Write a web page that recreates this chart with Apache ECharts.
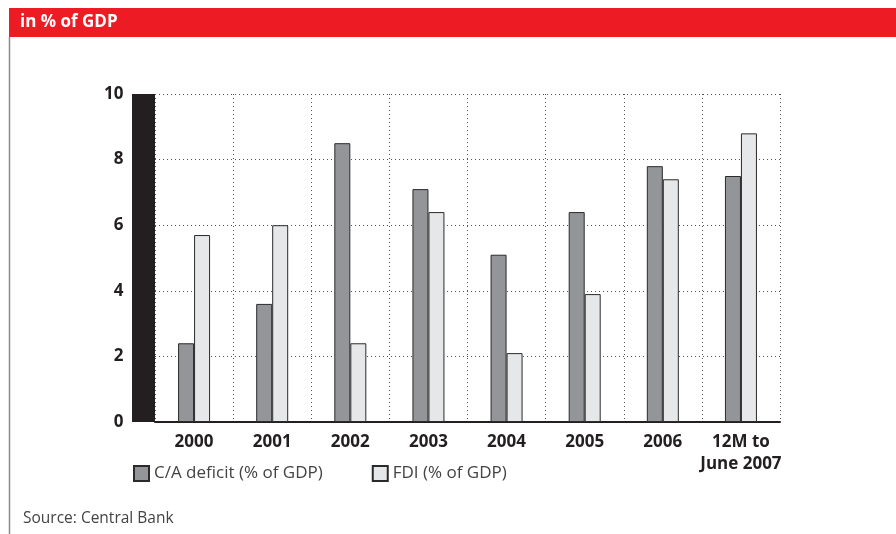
<!DOCTYPE html>
<html>
<head>
<meta charset="utf-8">
<script src="https://cdn.jsdelivr.net/npm/echarts@6/dist/echarts.min.js"></script>
<style>
html,body{margin:0;padding:0;background:#fff;}
#chart{width:896px;height:534px;}
</style>
</head>
<body>
<div id="chart"></div>
<script>
var categories = ['2000', '2001', '2002', '2003', '2004', '2005', '2006', '12M to\nJune 2007'];
var caDeficit = [2.4, 3.6, 8.5, 7.1, 5.1, 6.4, 7.8, 7.5];
var fdi = [5.7, 6.0, 2.4, 6.4, 2.1, 3.9, 7.4, 8.8];
var yTicks = [0, 2, 4, 6, 8, 10];

var FONT = '"Open Sans", "Noto Sans", sans-serif';
var chart = echarts.init(document.getElementById('chart'));
chart.setOption({
  animation: false,
  backgroundColor: '#fff',
  textStyle: { fontFamily: FONT },
  graphic: [
    { type: 'rect', shape: { x: 9, y: 8, width: 887, height: 29 }, style: { fill: '#ed1c24' } },
    { type: 'text', x: 20, y: 22, style: { text: 'in % of GDP', fill: '#fff', font: 'bold 17px ' + FONT, verticalAlign: 'middle' } },
    { type: 'line', shape: { x1: 9.5, y1: 37, x2: 9.5, y2: 534 }, style: { stroke: '#8a8a8a', lineWidth: 1.5 } },
    { type: 'text', left: 23, top: 511, style: { text: 'Source: Central Bank', fill: '#444', font: '15.5px ' + FONT } }
  ],
  grid: { left: 155, right: 116, top: 94, bottom: 112, containLabel: false },
  legend: {
    left: 128, top: 460, itemWidth: 15, itemHeight: 15, itemGap: 49,
    icon: 'rect',
    textStyle: { fontSize: 17, color: '#444', fontFamily: FONT },
    data: ['C/A deficit (% of GDP)', 'FDI (% of GDP)']
  },
  xAxis: {
    type: 'category',
    data: categories,
    boundaryGap: true,
    axisLine: { show: true, lineStyle: { color: '#231f20', width: 2 } },
    axisTick: { show: false },
    axisLabel: { fontWeight: 'bold', fontSize: 17, color: '#231f20', margin: 9, lineHeight: 22, interval: 0 },
    splitLine: { show: true, lineStyle: { type: [1, 3], color: '#555', width: 1 } }
  },
  yAxis: {
    type: 'value',
    min: 0, max: 10, interval: 2,
    offset: 11.5,
    axisLine: { show: true, onZero: false, lineStyle: { color: '#231f20', width: 23, cap: 'butt' } },
    axisTick: { show: false },
    axisLabel: {
      fontWeight: 'bold', fontSize: 17, color: '#231f20', margin: 20,
      formatter: function (v) { return yTicks.indexOf(v) >= 0 ? String(v) : ''; }
    },
    splitLine: { show: true, lineStyle: { type: [1, 3], color: '#555', width: 1 } }
  },
  series: [
    {
      name: 'C/A deficit (% of GDP)', type: 'bar', data: caDeficit,
      barWidth: 16, barGap: '0%',
      itemStyle: { color: '#939598', borderColor: '#2a2a2a', borderWidth: 1 }
    },
    {
      name: 'FDI (% of GDP)', type: 'bar', data: fdi,
      barWidth: 16, barGap: '0%',
      itemStyle: { color: '#e6e7e8', borderColor: '#2a2a2a', borderWidth: 1 }
    }
  ]
});
</script>
</body>
</html>
